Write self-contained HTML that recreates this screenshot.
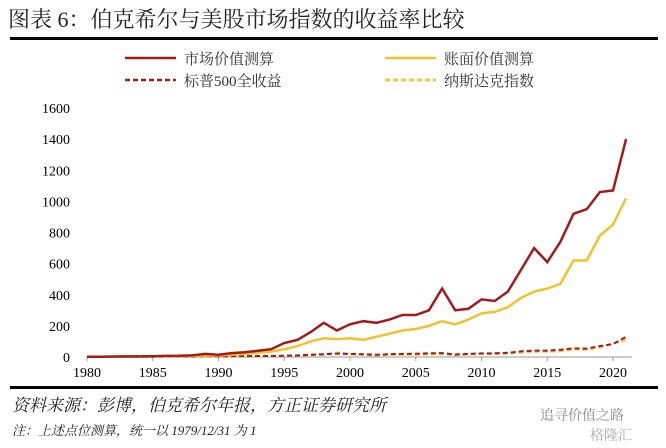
<!DOCTYPE html>
<html><head><meta charset="utf-8"><style>
body{margin:0;width:666px;height:448px;background:#fff;overflow:hidden}
svg{position:absolute;left:0;top:0}
svg text{font-family:"Liberation Serif","Noto Serif CJK SC",serif}
</style></head><body>
<svg width="666" height="448" id="s">
<text x="8" y="27" font-size="22" fill="#222">图表 6：伯克希尔与美股市场指数的收益率比较</text>
<rect x="10" y="37" width="648" height="3" fill="#000"/>
<line x1="125" y1="58" x2="176" y2="58" stroke="#a31a1a" stroke-width="2.5"/>
<text x="184" y="64" font-size="15" fill="#333">市场价值测算</text>
<line x1="385" y1="58" x2="436" y2="58" stroke="#f2c22c" stroke-width="2.5"/>
<text x="444" y="64" font-size="15" fill="#333">账面价值测算</text>
<line x1="125" y1="80" x2="176" y2="80" stroke="#a31a1a" stroke-width="2.5" stroke-dasharray="5,3"/>
<text x="184" y="86" font-size="15" fill="#333">标普500全收益</text>
<line x1="385" y1="80" x2="436" y2="80" stroke="#f2c22c" stroke-width="2.5" stroke-dasharray="5,3"/>
<text x="444" y="86" font-size="15" fill="#333">纳斯达克指数</text>
<g font-size="14" fill="#000" text-anchor="end" id="yl"></g>
<g font-size="14" fill="#000" text-anchor="middle" id="xl"></g>
<line x1="87" y1="357" x2="632" y2="357" stroke="#999" stroke-width="1"/>
<g id="ser"></g>
<rect x="10" y="386" width="648" height="3" fill="#000"/>
<text x="12" y="411" font-size="17" font-style="italic" fill="#222">资料来源：彭博，伯克希尔年报，方正证券研究所</text>
<text x="12" y="435" font-size="13" font-style="italic" fill="#222">注：上述点位测算，统一以 1979/12/31 为 1</text>
<text x="540" y="420" font-size="14" fill="#888">追寻价值之路</text>
<text x="590" y="440" font-size="14" fill="#aaa">格隆汇</text>
</svg>
<script>
var ns="http://www.w3.org/2000/svg";
function X(y){return 87+(y-1980)*13.15}
function Y(v){return 357-v*249/1600}
var yl=document.getElementById('yl'),xl=document.getElementById('xl'),ser=document.getElementById('ser');
for(var v=0;v<=1600;v+=200){var t=document.createElementNS(ns,'text');t.setAttribute('x',70);t.setAttribute('y',Y(v)+5);t.textContent=v;yl.appendChild(t);}
for(var y=1980;y<=2020;y+=5){var t=document.createElementNS(ns,'text');t.setAttribute('x',X(y));t.setAttribute('y',377);t.textContent=y;xl.appendChild(t);
var l=document.createElementNS(ns,'line');l.setAttribute('x1',X(y));l.setAttribute('x2',X(y));l.setAttribute('y1',357);l.setAttribute('y2',361);l.setAttribute('stroke','#999');xl.appendChild(l);}
var red=[1,2,3,4,4,5,7,8,10,20,15,25,30,40,50,90,110,160,220,170,210,230,220,240,270,270,300,440,300,310,370,360,420,560,700,610,740,920,950,1060,1070,1400];
var yel=[1,1.5,2,2.5,3,4,5,6,7,9,10,14,20,28,35,50,70,100,120,115,120,110,130,150,170,180,200,230,210,240,280,290,320,380,420,440,470,620,620,780,850,1020];
var sp=[1,1.2,1.4,1.6,1.7,2.2,2.6,2.8,3.2,4.2,4,5.2,5.6,6.2,6.3,8.6,10.6,14,18,22,20,18,14,18,20,21,24,25,16,20,23,24,27,36,41,41,46,56,54,70,83,130];
var nq=[1,1.3,1.1,1.8,1.8,2.3,2.6,2.4,2.7,3.3,2.7,4.3,4.9,5.5,5.4,7.5,9.2,11,15,29,18,14,9,14,15,15,17,19,11,16,19,19,22,29,33,35,37,48,46,62,88,110];
function add(d,c,dash,w){var p=d.map(function(v,i){return X(1980+i).toFixed(1)+','+Y(v).toFixed(1)}).join(' ');
var e=document.createElementNS(ns,'polyline');e.setAttribute('points',p);e.setAttribute('fill','none');e.setAttribute('stroke',c);e.setAttribute('stroke-width',w);if(dash)e.setAttribute('stroke-dasharray',dash);ser.appendChild(e);}
add(nq,'#f2c22c','5,3',2);add(sp,'#a31a1a','5,3',2);add(yel,'#f2c22c',null,2.5);add(red,'#a31a1a',null,2.5);
</script>
</body></html>
